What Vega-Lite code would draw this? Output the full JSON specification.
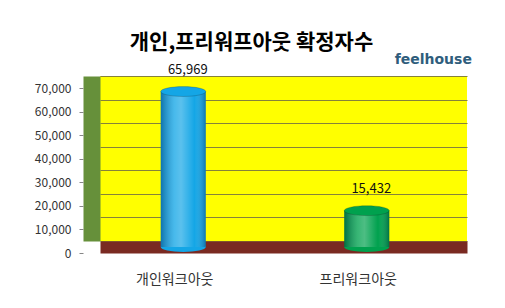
{
  "$schema": "https://vega.github.io/schema/vega-lite/v6.json",
  "width": 367,
  "height": 165,
  "autosize": {"type": "none"},
  "padding": {"left": 100, "top": 76, "right": 38, "bottom": 67},
  "background": "white",
  "config": {
    "view": {"fill": "#ffff00", "stroke": null},
    "font": "Noto Sans CJK KR"
  },
  "title": {
    "text": "개인,프리워프아웃 확정자수",
    "fontSize": 21,
    "fontWeight": "bold",
    "font": "Noto Sans CJK KR",
    "color": "#000000",
    "anchor": "middle",
    "frame": "group",
    "dx": -32,
    "baseline": "bottom",
    "offset": -21
  },
  "data": {
    "values": [
      {"category": "개인워크아웃", "value": 65969},
      {"category": "프리워크아웃", "value": 15432}
    ]
  },
  "resolve": {"axis": {"y": "independent"}},
  "layer": [
    {
      "mark": {
        "type": "point",
        "filled": true,
        "opacity": 1,
        "size": 2025,
        "shape": "M-1,0A1,0.22,0,1,0,1,0A1,0.22,0,1,0,-1,0Z",
        "xOffset": -8.5,
        "yOffset": 6
      },
      "encoding": {
        "x": {
          "field": "category",
          "type": "nominal",
          "sort": null,
          "scale": {"paddingInner": 0, "paddingOuter": 0},
          "axis": {
            "orient": "bottom",
            "title": null,
            "domain": true,
            "domainColor": "#7a2a22",
            "domainWidth": 12,
            "offset": 6,
            "ticks": false,
            "labelPadding": 25,
            "labelOffset": -17,
            "labelAngle": 0,
            "labelFontSize": 14,
            "labelColor": "#333333",
            "labelFont": "Noto Sans CJK KR"
          }
        },
        "y": {"datum": 0, "type": "quantitative", "scale": {"domain": [0, 70000], "nice": false}, "axis": null},
        "color": {
          "field": "category",
          "type": "nominal",
          "sort": null,
          "scale": {"range": ["#14a6e6", "#00a14e"]},
          "legend": null
        }
      }
    },
    {
      "mark": {"type": "bar", "width": 45, "xOffset": -8.5, "yOffset": 6, "y2Offset": 6},
      "encoding": {
        "x": {"field": "category", "type": "nominal", "sort": null},
        "y": {
          "field": "value",
          "type": "quantitative",
          "stack": null,
          "axis": {
            "orient": "left",
            "title": null,
            "grid": true,
            "gridColor": "#86823a",
            "gridWidth": 1,
            "domain": false,
            "ticks": false,
            "labels": false,
            "tickCount": 7
          }
        },
        "y2": {"datum": 0},
        "color": {"field": "category", "type": "nominal", "sort": null, "legend": null}
      }
    },
    {
      "mark": {
        "type": "bar",
        "width": 45,
        "xOffset": -8.5,
        "yOffset": 6,
        "y2Offset": 6,
        "fill": {
          "gradient": "linear",
          "x1": 0, "x2": 1, "y1": 0, "y2": 0,
          "stops": [
            {"offset": 0, "color": "rgba(0,0,40,0.30)"},
            {"offset": 0.3, "color": "rgba(255,255,255,0.22)"},
            {"offset": 0.45, "color": "rgba(255,255,255,0.30)"},
            {"offset": 0.75, "color": "rgba(255,255,255,0.0)"},
            {"offset": 1, "color": "rgba(0,0,40,0.30)"}
          ]
        }
      },
      "encoding": {
        "x": {"field": "category", "type": "nominal", "sort": null},
        "y": {
          "field": "value",
          "type": "quantitative",
          "stack": null,
          "axis": {
            "orient": "left",
            "title": null,
            "grid": false,
            "domain": true,
            "domainColor": "#66903a",
            "domainWidth": 17,
            "offset": 8.5,
            "ticks": false,
            "labels": false
          }
        },
        "y2": {"datum": 0}
      }
    },
    {
      "mark": {
        "type": "point",
        "filled": true,
        "opacity": 1,
        "size": 2025,
        "shape": "M-1,0A1,0.22,0,1,0,1,0A1,0.22,0,1,0,-1,0Z",
        "stroke": "rgba(0,0,0,0.18)",
        "strokeWidth": 1,
        "xOffset": -8.5,
        "yOffset": 6
      },
      "encoding": {
        "x": {"field": "category", "type": "nominal", "sort": null},
        "y": {
          "field": "value",
          "type": "quantitative",
          "axis": {
            "orient": "left",
            "title": null,
            "grid": false,
            "domain": false,
            "ticks": true,
            "tickSize": 4,
            "tickColor": "#868686",
            "tickOffset": 12,
            "offset": 17,
            "labelPadding": 8,
            "labelFontSize": 12,
            "labelColor": "#333333",
            "labelFont": "Noto Sans CJK KR",
            "labelExpr": "format(datum.value, ',')",
            "tickCount": 7
          }
        },
        "color": {"field": "category", "type": "nominal", "sort": null, "legend": null}
      }
    },
    {
      "mark": {"type": "text", "fontSize": 13, "color": "#111111", "baseline": "middle", "dy": -16, "dx": -4, "font": "Noto Sans CJK KR"},
      "encoding": {
        "x": {"field": "category", "type": "nominal", "sort": null},
        "y": {"field": "value", "type": "quantitative", "axis": null},
        "text": {"field": "value", "type": "quantitative", "format": ","}
      }
    },
    {
      "data": {"values": [{"logo": "feelhouse"}]},
      "mark": {"type": "text", "fontSize": 14, "fontWeight": "bold", "font": "DejaVu Sans", "color": "#2f5d7c", "baseline": "alphabetic", "align": "center", "xOffset": 58},
      "encoding": {
        "x": {"datum": "프리워크아웃"},
        "y": {"datum": 75000, "type": "quantitative", "axis": null},
        "text": {"field": "logo", "type": "nominal"}
      }
    }
  ]
}
